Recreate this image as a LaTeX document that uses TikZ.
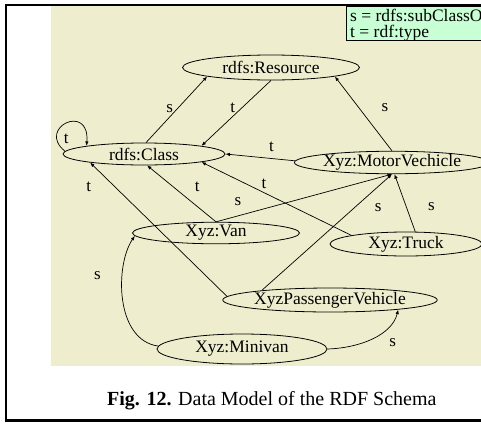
\documentclass[tikz,border=0pt]{standalone}
\usepackage{fontspec}
\setmainfont{Liberation Serif}
\usetikzlibrary{shapes.geometric,arrows.meta}
\definecolor{schemabg}{RGB}{238,238,206}
\definecolor{legendbg}{RGB}{200,255,212}

\begin{document}
\begin{tikzpicture}[
  x=1pt, y=-1pt,
  ell/.style={draw, ellipse, inner sep=0pt, line width=0.8pt, font=\fontsize{17.5}{19}\selectfont},
  arrow/.style={-{Latex[length=4.5pt,width=3.5pt]}, line width=0.7pt},
  lbl/.style={inner sep=0pt, font=\fontsize{17}{19}\selectfont}
]
\useasboundingbox (0,0) rectangle (481,423);
\clip (0,0) rectangle (481,423);

% frame, canvas and legend
\draw[line width=2.6pt] (6,5) rectangle (540,420.5);
\fill[schemabg] (51,6.3) rectangle (481,366);
\draw[fill=legendbg, line width=0.8pt] (346,6.3) rectangle (540,40);
\node[lbl, anchor=base west, font=\fontsize{17.5}{19}\selectfont] (leg1) at (350,21) {s = rdfs:subClassOf};
\node[lbl, anchor=base west, font=\fontsize{17.5}{19}\selectfont] (leg2) at (350,37) {t = rdf:type};

% classes
\node[ell, minimum width=177pt, minimum height=25pt] (res) at (271,67.5) {rdfs:Resource};
\node[ell, minimum width=162pt, minimum height=22pt] (cls) at (144,154) {rdfs:Class};
\node[ell, minimum width=175pt, minimum height=22pt] (motor) at (392,162.5) {Xyz:MotorVechicle};
\node[ell, minimum width=167pt, minimum height=21pt] (van) at (216,233) {Xyz:Van};
\node[ell, minimum width=152pt, minimum height=24pt] (truck) at (406,244) {Xyz:Truck};
\node[ell, minimum width=176pt, minimum height=24pt] (pass) at (330,300) {XyzPassengerVehicle};
\node[ell, minimum width=170pt, minimum height=30pt] (mini) at (242,349) {Xyz:Minivan};

% subClassOf / type links
\draw[arrow] (cls.80) -- node[lbl, pos=.52, xshift=-8pt] {s} (res.188);
\draw[arrow] (res.270) -- node[lbl, pos=.42, xshift=-9pt] {t} (cls.8);
\draw[arrow] (motor.90) -- node[lbl, pos=.58, xshift=26pt] {s} (res.352);
\draw[arrow] (cls.178) .. controls (36,128) and (90,102) .. node[lbl, pos=.5, yshift=-15pt] {t} (cls.172);
\draw[arrow] (motor.179) -- node[lbl, pos=.34, yshift=12pt] {t} (cls.east);
\draw[arrow] (van.north) -- node[lbl, pos=.62, xshift=24pt] {t} (cls.285);
\draw[arrow] (pass.178) -- node[lbl, pos=.82, xshift=-26pt] {t} (cls.189);
\draw[arrow] (truck.171) -- node[lbl, pos=.71, xshift=19pt] {t} (cls.352);
\draw[arrow] (van.north) -- node[lbl, pos=.125, yshift=14pt] {s} (motor.south);
\draw[arrow] (pass.172) -- node[lbl, pos=.71, xshift=24pt] {s} (motor.south);
\draw[arrow] (truck.53) -- node[lbl, pos=.43, xshift=25pt] {s} (motor.282);
\draw[arrow] (mini.178) .. controls (115,340) and (115,265) .. node[lbl, pos=.67, xshift=-25pt] {s} (van.182);
\draw[arrow] (mini.east) .. controls (360,348) and (392,335) .. node[lbl, pos=.5, xshift=20pt, yshift=-4pt] {s} (pass.352);

% caption
\node[anchor=base east, font=\fontsize{20}{22}\selectfont] (cap) at (440,405) {\textbf{Fig. 12.} Data Model of the RDF Schema};
\end{tikzpicture}
\end{document}
